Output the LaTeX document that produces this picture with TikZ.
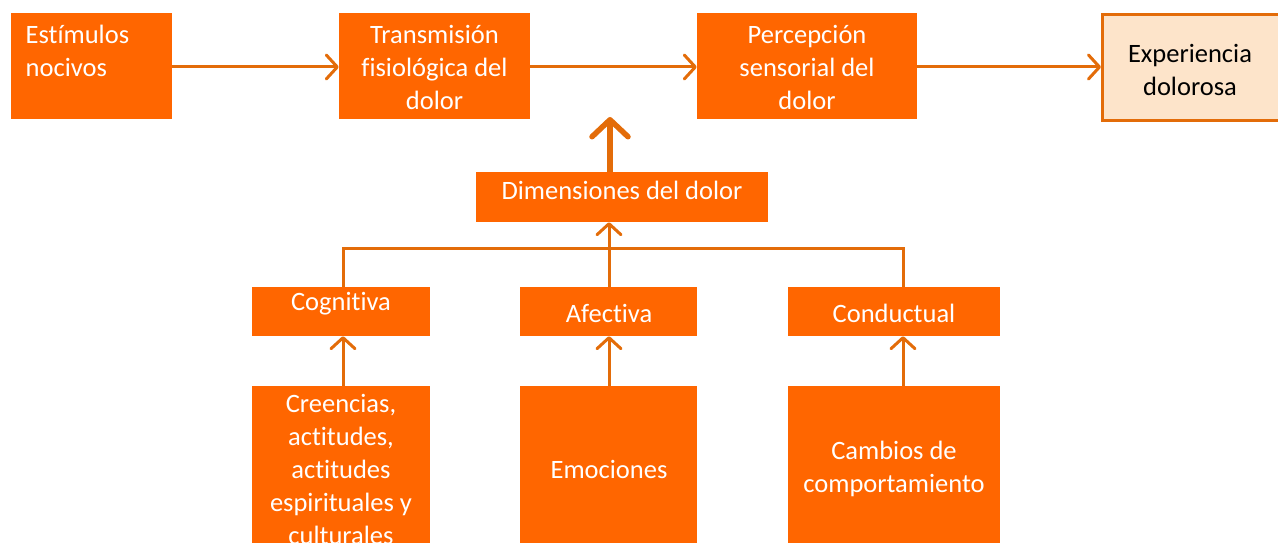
\documentclass[tikz,border=0pt]{standalone}
\usepackage{fontspec}
\setmainfont{Carlito}[Ligatures={NoCommon,NoRequired,NoContextual}]
\usetikzlibrary{arrows.meta}
\definecolor{boxor}{HTML}{FF6600}
\definecolor{lineor}{HTML}{E36C09}
\definecolor{peach}{HTML}{FDE4CA}
\begin{document}
\begin{tikzpicture}[x=1pt,y=-1pt,
  box/.style={fill=boxor,draw=none,inner sep=0pt},
  txt/.style={text=white,inner sep=0pt,align=center,font=\fontsize{26.5}{33}\selectfont},
  conn/.style={draw=lineor,line width=3pt,-{Straight Barb[length=11pt,width=24pt,round]}},
  plain/.style={draw=lineor,line width=3pt}]
\useasboundingbox (0,0) rectangle (1278,543);
\clip (0,0) rectangle (1278,543);
% top row
\node[box,minimum width=161pt,minimum height=106pt] (est) at (91.5,66) {};
\node[txt,align=left,anchor=west] at (25.5,51) {Estímulos\\nocivos};
\node[box,minimum width=191pt,minimum height=106pt] (trans) at (434.5,66) {};
\node[txt] at (434.5,67) {Transmisión\\fisiológica del\\dolor};
\node[box,minimum width=220pt,minimum height=106pt] (perc) at (807,66) {};
\node[txt] at (807,67) {Percepción\\sensorial del\\dolor};
\node[fill=peach,draw=lineor,line width=3pt,minimum width=180pt,minimum height=106pt,inner sep=0pt] (exp) at (1192.5,67.5) {};
\node[txt,text=black] at (1190,69.5) {Experiencia\\dolorosa};
% dimensions
\node[box,minimum width=292pt,minimum height=50pt] (dim) at (622,197) {};
\node[txt] at (622,190) {Dimensiones del dolor};
% middle row
\node[box,minimum width=178pt,minimum height=49pt] (cog) at (341,311.5) {};
\node[txt] at (341,304) {Cognitiva};
\node[box,minimum width=177pt,minimum height=49pt] (afe) at (608.5,311.5) {};
\node[txt] at (609,313) {Afectiva};
\node[box,minimum width=212pt,minimum height=49pt] (con) at (894,311.5) {};
\node[txt] at (894,313) {Conductual};
% bottom row
\node[box,minimum width=178pt,minimum height=170pt] (cre) at (341,471) {};
\node[txt] at (341,469) {Creencias,\\actitudes,\\actitudes\\espirituales y\\culturales};
\node[box,minimum width=177pt,minimum height=170pt] (emo) at (608.5,471) {};
\node[txt] at (609,469) {Emociones};
\node[box,minimum width=212pt,minimum height=170pt] (cam) at (894,471) {};
\node[txt] at (894,468.5) {Cambios de\\comportamiento};
% connectors
\draw[conn] (est.east |- 0,67) -- (trans.west |- 0,67);
\draw[conn] (trans.east |- 0,67) -- (perc.west |- 0,67);
\draw[conn] (perc.east |- 0,67) -- (exp.west |- 0,67);
\coordinate (up) at (610,117);
\draw[draw=lineor,line width=5.5pt,-{Straight Barb[length=17pt,width=36pt,round]}] (dim.north -| up) -- (up);
\draw[conn] (afe.north -| 609,0) -- (dim.south -| 609,0);
\draw[plain] (cog.north -| 343,0) -- (343,248) -- (903,248) -- (con.north -| 903,0);
\draw[conn] (cre.north -| 343,0) -- (cog.south -| 343,0);
\draw[conn] (emo.north -| 609,0) -- (afe.south -| 609,0);
\draw[conn] (cam.north -| 903,0) -- (con.south -| 903,0);
\end{tikzpicture}
\end{document}
